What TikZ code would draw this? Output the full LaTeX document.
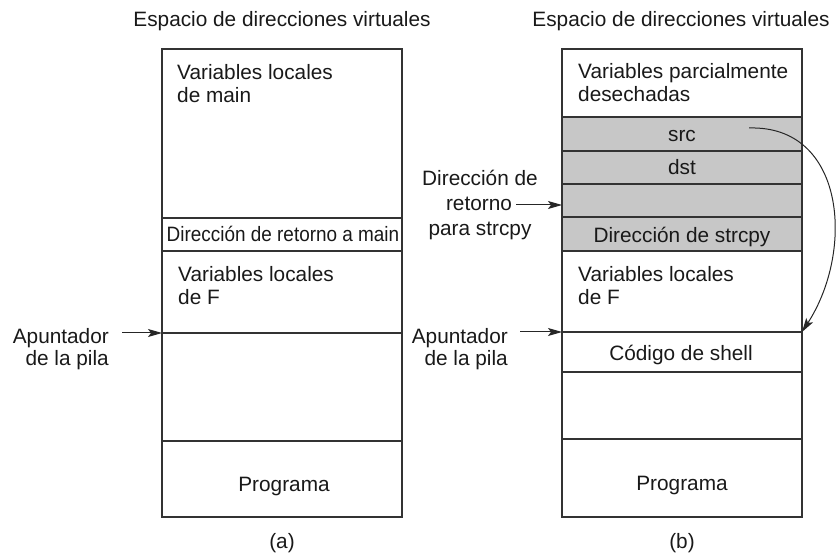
\documentclass[tikz,border=0pt]{standalone}
\usepackage{fontspec}
\setmainfont{Liberation Sans}
\usepackage{graphicx}
\usetikzlibrary{arrows.meta}
\begin{document}
\begin{tikzpicture}[x=1pt,y=-1pt,
  cell/.style={rectangle, draw=black!80, line width=1.2pt, minimum width=240pt, inner sep=0pt, outer sep=0pt},
  shaded/.style={cell, fill=black!22},
  txt/.style={font=\fontsize{20.8}{23}\selectfont, inner sep=0pt, anchor=base, text=black!90},
  ltxt/.style={txt, anchor=base west},
  rtxt/.style={txt, anchor=base east},
  arr/.style={draw=black!85, line width=1pt, -{Stealth[length=14pt,width=8pt,inset=3pt]}}]
\useasboundingbox (0,0) rectangle (836,556);

% titles
\node[txt] (ta) at (282,27) {Espacio de direcciones virtuales};
\node[txt] (tb) at (681,27) {Espacio de direcciones virtuales};

% left stack (a)
\node[cell, minimum height=169pt] (la1) at (282,133.5) {};
\node[cell, minimum height=33pt]  (la2) at (282,234.5) {};
\node[cell, minimum height=82pt]  (la3) at (282,292) {};
\node[cell, minimum height=108pt] (la4) at (282,387) {};
\node[cell, minimum height=76pt]  (la5) at (282,479) {};

\node[ltxt] (la1t1) at (177,80) {Variables locales};
\node[ltxt] (la1t2) at (177,103) {de main};
\node[txt] (la2t) at (283,242) {\scalebox{0.91}[1]{Dirección de retorno a main}};
\node[ltxt] (la3t1) at (178,282) {Variables locales};
\node[ltxt] (la3t2) at (178,305) {de F};
\node[txt] (la5t) at (284,491) {Programa};

% right stack (b)
\node[cell, minimum height=68pt]  (rb1) at (682,83) {};
\node[shaded, minimum height=34pt] (rb2) at (682,134) {};
\node[shaded, minimum height=33pt] (rb3) at (682,167.5) {};
\node[shaded, minimum height=33pt] (rb4) at (682,200.5) {};
\node[shaded, minimum height=34pt] (rb5) at (682,234) {};
\node[cell, minimum height=81pt]  (rb6) at (682,291.5) {};
\node[cell, minimum height=40pt]  (rb7) at (682,352) {};
\node[cell, minimum height=67pt]  (rb8) at (682,405.5) {};
\node[cell, minimum height=78pt]  (rb9) at (682,478) {};

\node[ltxt] (rb1t1) at (578,79) {Variables parcialmente};
\node[ltxt] (rb1t2) at (578,102) {desechadas};
\node[txt] (rb2t) at (682,142) {src};
\node[txt] (rb3t) at (682,175) {dst};
\node[txt] (rb5t) at (682,243) {Dirección de strcpy};
\node[ltxt] (rb6t1) at (578,282) {Variables locales};
\node[ltxt] (rb6t2) at (578,305) {de F};
\node[txt] (rb7t) at (681,360) {Código de shell};
\node[txt] (rb9t) at (682,490) {Programa};

% side labels
\node[rtxt] (spa1) at (109,343) {Apuntador};
\node[rtxt] (spa2) at (109,365) {de la pila};
\node[rtxt] (spb1) at (508,343) {Apuntador};
\node[rtxt] (spb2) at (508,365) {de la pila};
\node[txt] (ret1) at (480,186) {Dirección de};
\node[txt] (ret2) at (479,211) {retorno};
\node[txt] (ret3) at (480,236) {para strcpy};

% captions
\node[txt] (ca) at (282,548) {(a)};
\node[txt] (cb) at (682,548) {(b)};

% arrows
\coordinate (pa) at (122,333);
\draw[arr] (pa) -- (la4.north west);
\coordinate (pb) at (520,332);
\draw[arr] (pb) -- (rb7.north west);
\coordinate (rr) at (516,205);
\draw[arr] (rr) -- (rb4.west |- rr);
\coordinate (cs) at (749,128);
\draw[arr] (cs) .. controls (845,125) and (855,250) .. (rb7.north east);
\end{tikzpicture}
\end{document}
